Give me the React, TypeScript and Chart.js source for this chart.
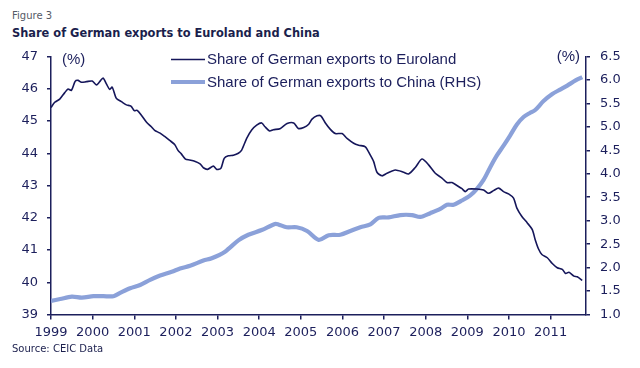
import React, { useEffect, useRef } from "react";
import { Chart, registerables } from "chart.js";

Chart.register(...registerables);

const figureLabel = "Figure 3";
const titleText = "Share of German exports to Euroland and China";
const sourceText = "Source: CEIC Data";
const euroLabel = "Share of German exports to Euroland";
const chinaLabel = "Share of German exports to China (RHS)";

const yearTicks = [1999, 2000, 2001, 2002, 2003, 2004, 2005, 2006, 2007, 2008, 2009, 2010, 2011];

const euroYears = [
  1999.0, 1999.09, 1999.21, 1999.33, 1999.41, 1999.49, 1999.58, 1999.65, 1999.73, 1999.85, 1999.99,
  2000.09, 2000.17, 2000.25, 2000.33, 2000.41, 2000.47, 2000.57, 2000.69, 2000.81, 2000.92,
  2001.0, 2001.07, 2001.17, 2001.29, 2001.41, 2001.49, 2001.61, 2001.73, 2001.85, 2001.97,
  2002.05, 2002.13, 2002.23, 2002.33, 2002.45, 2002.58, 2002.66, 2002.76, 2002.9, 2002.98,
  2003.08, 2003.16, 2003.26, 2003.38, 2003.5, 2003.58, 2003.7, 2003.82, 2003.94,
  2004.06, 2004.14, 2004.25, 2004.34, 2004.5, 2004.67, 2004.83, 2004.94,
  2005.07, 2005.19, 2005.27, 2005.39, 2005.48, 2005.59, 2005.71, 2005.83, 2005.99,
  2006.11, 2006.27, 2006.39, 2006.55, 2006.67, 2006.75, 2006.83, 2006.95,
  2007.07, 2007.27, 2007.47, 2007.59, 2007.75, 2007.91,
  2008.07, 2008.23, 2008.39, 2008.51, 2008.63, 2008.75, 2008.87, 2008.95,
  2009.03, 2009.23, 2009.39, 2009.51, 2009.63, 2009.75, 2009.87, 2009.99,
  2010.11, 2010.19, 2010.31, 2010.44, 2010.56, 2010.63, 2010.71, 2010.79, 2010.92,
  2011.04, 2011.16, 2011.28, 2011.36, 2011.44, 2011.56, 2011.64, 2011.76,
];
const euroValues = [
  45.42, 45.58, 45.68, 45.88, 45.99, 45.95, 46.23, 46.26, 46.2, 46.22, 46.24,
  46.12, 46.22, 46.33, 46.15, 45.98, 46.05, 45.7, 45.6, 45.5, 45.46,
  45.32, 45.33, 45.18, 44.97, 44.82, 44.71, 44.63, 44.52, 44.4, 44.27,
  44.09, 43.98, 43.82, 43.79, 43.75, 43.67, 43.55, 43.5, 43.6, 43.5,
  43.53, 43.84, 43.92, 43.94, 44.0, 44.1, 44.46, 44.72, 44.87,
  44.94, 44.82, 44.69, 44.73, 44.76, 44.92, 44.94, 44.77,
  44.8, 44.9, 45.06, 45.16, 45.16, 44.94, 44.74, 44.61, 44.61,
  44.46, 44.31, 44.25, 44.2, 43.94, 43.74, 43.41, 43.3,
  43.38, 43.48, 43.41, 43.36, 43.56, 43.82,
  43.64, 43.38, 43.23, 43.09, 43.09, 43.0, 42.9, 42.81,
  42.89, 42.89, 42.86, 42.76, 42.84, 42.92, 42.81, 42.74,
  42.61, 42.3, 42.04, 41.84, 41.63, 41.32, 41.03, 40.86, 40.76,
  40.58, 40.45, 40.4, 40.27, 40.31, 40.19, 40.17, 40.06,
];

const chinaYears = [
  1999.0, 1999.22, 1999.5, 1999.74, 2000.02, 2000.26, 2000.5, 2000.66, 2000.9,
  2001.14, 2001.38, 2001.62, 2001.9, 2002.1, 2002.34, 2002.66, 2002.86,
  2003.18, 2003.5, 2003.74, 2004.06, 2004.38, 2004.46, 2004.66, 2004.9,
  2005.15, 2005.43, 2005.67, 2005.95, 2006.19, 2006.43, 2006.67, 2006.87,
  2007.11, 2007.39, 2007.67, 2007.87, 2008.11, 2008.35, 2008.51, 2008.67, 2008.87,
  2009.07, 2009.23, 2009.39, 2009.55, 2009.71, 2009.87, 2010.03, 2010.19, 2010.35,
  2010.51, 2010.63, 2010.83, 2011.04, 2011.24, 2011.4, 2011.6, 2011.76,
];
const chinaValues = [
  1.29, 1.33, 1.38, 1.36, 1.39, 1.39, 1.39, 1.46, 1.56,
  1.63, 1.74, 1.83, 1.91, 1.98, 2.04, 2.15, 2.2,
  2.34, 2.58, 2.7, 2.8, 2.93, 2.92, 2.86, 2.86,
  2.78, 2.59, 2.69, 2.7, 2.78, 2.86, 2.92, 3.06,
  3.07, 3.12, 3.12, 3.08, 3.16, 3.25, 3.34, 3.34, 3.43,
  3.54, 3.68, 3.87, 4.14, 4.39, 4.6, 4.82, 5.05, 5.21,
  5.3, 5.36, 5.55, 5.7, 5.8, 5.88, 5.99, 6.06,
];

const NAVY = "#1c1f5c";
const EURO_COLOR = "#15165a";
const CHINA_COLOR = "#8ba1d9";

const overlayPlugin = {
  id: "overlay",
  afterDraw(chart: any) {
    const ctx = chart.ctx;
    const area = chart.chartArea;
    ctx.save();
    ctx.font = '15px "Liberation Sans", Arial, sans-serif';
    ctx.fillStyle = NAVY;
    ctx.textBaseline = "middle";
    ctx.textAlign = "left";
    ctx.fillText("(%)", area.left + 11, 60);
    ctx.textAlign = "right";
    ctx.fillText("(%)", area.right - 6, 57);

    // legend
    ctx.lineCap = "butt";
    ctx.strokeStyle = EURO_COLOR;
    ctx.lineWidth = 1.5;
    ctx.beginPath();
    ctx.moveTo(171, 59.5);
    ctx.lineTo(205, 59.5);
    ctx.stroke();
    ctx.strokeStyle = CHINA_COLOR;
    ctx.lineWidth = 4;
    ctx.beginPath();
    ctx.moveTo(171, 82);
    ctx.lineTo(205, 82);
    ctx.stroke();
    ctx.textAlign = "left";
    ctx.fillStyle = NAVY;
    ctx.fillText(euroLabel, 207, 60);
    ctx.fillText(chinaLabel, 207, 82.5);
    ctx.restore();
  },
};

export default function App() {
  const canvasRef = useRef<HTMLCanvasElement | null>(null);

  useEffect(() => {
    if (!canvasRef.current) return;
    const euroData = euroYears.map((x, i) => ({ x, y: euroValues[i] }));
    const chinaData = chinaYears.map((x, i) => ({ x, y: chinaValues[i] }));
    const tickFont = { family: '"DejaVu Sans", Verdana, sans-serif', size: 13 };

    const chart = new Chart(canvasRef.current, {
      type: "line",
      data: {
        datasets: [
          {
            label: euroLabel,
            data: euroData,
            yAxisID: "y",
            borderColor: EURO_COLOR,
            borderWidth: 1.6,
            pointRadius: 0,
            tension: 0.25,
            fill: false,
            order: 0,
          },
          {
            label: chinaLabel,
            data: chinaData,
            yAxisID: "y1",
            borderColor: CHINA_COLOR,
            borderWidth: 4.2,
            pointRadius: 0,
            tension: 0.3,
            fill: false,
            order: 1,
          },
        ],
      },
      options: {
        responsive: false,
        animation: false,
        devicePixelRatio: 1,
        layout: { padding: { top: 56.5, left: 0, right: 0, bottom: 0 } },
        plugins: {
          legend: { display: false },
          tooltip: { enabled: false },
          title: { display: false },
        },
        scales: {
          x: {
            type: "linear",
            min: 1999,
            max: 2011.85,
            afterBuildTicks: (scale: any) => {
              scale.ticks = yearTicks.map((v) => ({ value: v }));
            },
            afterFit: (scale: any) => {
              scale.height = 368 - 314.5;
            },
            ticks: {
              color: NAVY,
              font: tickFont,
              padding: 5,
              maxRotation: 0,
              autoSkip: false,
              callback: (v: any) => String(v),
            },
            grid: {
              display: true,
              drawOnChartArea: false,
              drawTicks: true,
              tickLength: 5,
              color: NAVY,
              lineWidth: 1.5,
            },
            border: { display: true, color: NAVY, width: 1.5 },
          },
          y: {
            type: "linear",
            position: "left",
            min: 39,
            max: 47,
            afterFit: (scale: any) => {
              scale.width = 51;
            },
            ticks: {
              stepSize: 1,
              color: NAVY,
              font: tickFont,
              padding: 9,
              callback: (v: any) => String(v),
            },
            grid: {
              display: true,
              drawOnChartArea: false,
              drawTicks: true,
              tickLength: 4,
              color: NAVY,
              lineWidth: 1.5,
            },
            border: { display: true, color: NAVY, width: 1.5 },
          },
          y1: {
            type: "linear",
            position: "right",
            min: 1,
            max: 6.5,
            afterFit: (scale: any) => {
              scale.width = 640 - 586;
            },
            ticks: {
              stepSize: 0.5,
              color: NAVY,
              font: tickFont,
              padding: 10,
              callback: (v: any) => Number(v).toFixed(1),
            },
            grid: {
              display: true,
              drawOnChartArea: false,
              drawTicks: true,
              tickLength: 4,
              color: NAVY,
              lineWidth: 1.5,
            },
            border: { display: true, color: NAVY, width: 1.5 },
          },
        },
      },
      plugins: [overlayPlugin],
    } as any);

    return () => chart.destroy();
  }, []);

  return (
    <div
      style={{
        position: "fixed",
        left: 0,
        top: 0,
        width: 640,
        height: 368,
        background: "#ffffff",
        overflow: "hidden",
      }}
    >
      <div
        style={{
          position: "absolute",
          left: 12,
          top: 10,
          lineHeight: "12px",
          font: '10px "DejaVu Sans", Verdana, sans-serif',
          color: "#555a66",
          whiteSpace: "nowrap",
        }}
      >
        {figureLabel}
      </div>
      <div
        style={{
          position: "absolute",
          left: 12,
          top: 26,
          lineHeight: "13px",
          font: 'bold 11.4px "DejaVu Sans", Verdana, sans-serif',
          color: "#1b1f4d",
          whiteSpace: "nowrap",
        }}
      >
        {titleText}
      </div>
      <canvas
        ref={canvasRef}
        width={640}
        height={368}
        style={{ position: "absolute", left: 0, top: 0, width: 640, height: 368 }}
      />
      <div
        style={{
          position: "absolute",
          left: 12,
          top: 343,
          lineHeight: "12px",
          font: '10px "DejaVu Sans", Verdana, sans-serif',
          color: "#1b1f4d",
          whiteSpace: "nowrap",
        }}
      >
        {sourceText}
      </div>
    </div>
  );
}
